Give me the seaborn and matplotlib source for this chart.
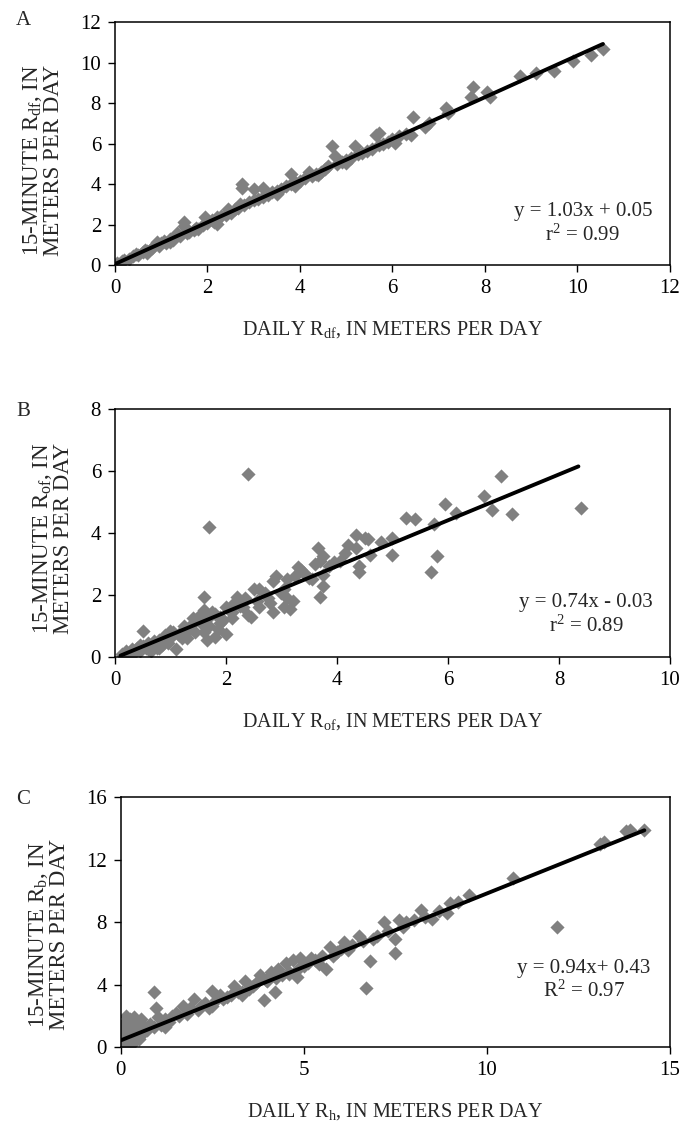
import numpy as np
import pandas as pd
import seaborn as sns
import matplotlib.pyplot as plt

# Panel A: recharge from daily vs 15-minute data (R_df)
a_daily = [0.02, 0.05, 0.1, 0.15, 0.2, 0.3, 0.4, 0.45, 0.5, 0.6, 0.65, 0.7, 0.7, 0.8, 0.85, 0.9,
           0.95, 1.0, 1.05, 1.1, 1.2, 1.2, 1.25, 1.3, 1.35, 1.4, 1.5, 1.5, 1.55, 1.6, 1.7, 1.75,
           1.8, 1.9, 1.95, 2.0, 2.1, 2.15, 2.2, 2.2, 2.3, 2.4, 2.45, 2.5, 2.6, 2.65, 2.7, 2.75,
           2.75, 2.8, 2.9, 3.0, 3.0, 3.1, 3.2, 3.2, 3.3, 3.4, 3.5, 3.5, 3.6, 3.7, 3.8, 3.8, 3.9,
           3.9, 4.0, 4.1, 4.2, 4.25, 4.35, 4.4, 4.45, 4.55, 4.6, 4.7, 4.75, 4.8, 4.9, 5.0, 5.0,
           5.1, 5.2, 5.25, 5.35, 5.45, 5.55, 5.65, 5.7, 5.7, 5.8, 5.9, 6.0, 6.05, 6.15, 6.3, 6.4,
           6.45, 6.7, 6.8, 7.15, 7.2, 7.7, 7.75, 8.05, 8.1, 8.75, 9.1, 9.5, 9.9, 10.3, 10.55]
a_15min = [0.0, 0.1, 0.05, 0.2, 0.25, 0.3, 0.45, 0.55, 0.5, 0.65, 0.75, 0.7, 0.6, 0.85, 0.95, 1.15,
           0.95, 1.1, 1.2, 1.1, 1.3, 1.15, 1.25, 1.4, 1.6, 1.45, 2.15, 1.95, 1.6, 1.65, 1.75, 1.85,
           1.8, 2.0, 2.35, 2.1, 2.2, 2.15, 2.35, 2.05, 2.4, 2.45, 2.75, 2.55, 2.75, 2.8, 3.0, 4.0,
           3.8, 2.95, 3.1, 3.75, 3.2, 3.25, 3.8, 3.35, 3.45, 3.6, 3.65, 3.5, 3.75, 3.9, 4.5, 4.0, 4.1,
           3.9, 4.15, 4.3, 4.6, 4.4, 4.5, 4.45, 4.6, 4.75, 4.9, 5.9, 5.4, 5.0, 5.1, 5.2, 5.05,
           5.3, 5.9, 5.5, 5.55, 5.65, 5.75, 6.4, 6.5, 5.95, 6.0, 6.1, 6.2, 6.05, 6.35, 6.45, 6.4,
           7.3, 6.8, 7.0, 7.75, 7.5, 8.3, 8.8, 8.55, 8.3, 9.35, 9.5, 9.6, 10.1, 10.35, 10.65]

# Panel B: R_of
b_daily = [0.12, 0.15, 0.2, 0.25, 0.3, 0.3, 0.35, 0.4, 0.45, 0.45, 0.5, 0.5, 0.55, 0.6, 0.6, 0.65,
           0.7, 0.75, 0.8, 0.8, 0.85, 0.9, 0.95, 1.0, 1.0, 1.05, 1.1, 1.15, 1.2, 1.2, 1.25, 1.3,
           1.35, 1.4, 1.4, 1.45, 1.5, 1.55, 1.6, 1.6, 1.6, 1.65, 1.7, 1.7, 1.7, 1.75, 1.8, 1.8,
           1.85, 1.9, 1.9, 1.95, 2.0, 2.0, 2.05, 2.1, 2.1, 2.15, 2.2, 2.25, 2.3, 2.35, 2.4, 2.4,
           2.45, 2.5, 2.55, 2.6, 2.6, 2.7, 2.75, 2.8, 2.85, 2.85, 2.9, 3.0, 3.05, 3.05, 3.1, 3.1,
           3.15, 3.2, 3.25, 3.3, 3.35, 3.4, 3.5, 3.55, 3.6, 3.65, 3.7, 3.7, 3.75, 3.75, 3.75, 3.85,
           3.95, 4.05, 4.15, 4.2, 4.35, 4.35, 4.4, 4.4, 4.5, 4.55, 4.6, 4.8, 5.0, 5.0, 5.25, 5.4,
           5.7, 5.75, 5.8, 5.95, 6.15, 6.65, 6.8, 6.95, 7.15, 8.4]
b_15min = [0.1, 0.05, 0.2, 0.1, 0.25, 0.05, 0.15, 0.3, 0.2, 0.4, 0.85, 0.35, 0.3, 0.45, 0.25, 0.2,
           0.5, 0.3, 0.55, 0.3, 0.4, 0.7, 0.45, 0.6, 0.85, 0.8, 0.25, 0.7, 0.85, 0.6, 1.0, 0.6,
           0.9, 1.1, 1.25, 0.8, 1.3, 1.1, 1.95, 1.5, 0.8, 0.55, 4.2, 1.3, 1.0, 1.45, 0.65, 1.4,
           0.9, 1.1, 1.3, 1.2, 0.75, 1.6, 1.5, 1.45, 1.25, 1.75, 1.95, 1.65, 1.6, 1.9, 5.9, 1.35,
           1.3, 2.2, 1.8, 2.2, 1.6, 2.05, 1.9, 1.75, 2.45, 1.45, 2.6, 2.05, 2.2, 1.6, 2.5, 1.9,
           1.55, 1.8, 2.6, 2.9, 2.8, 2.7, 2.55, 2.5, 3.0, 3.5, 3.1, 1.95, 3.25, 2.3, 2.65, 2.95,
           3.05, 3.1, 3.35, 3.6, 3.95, 3.5, 2.95, 2.75, 3.85, 3.8, 3.3, 3.7, 3.3, 3.85, 4.5, 4.45,
           2.75, 4.3, 3.25, 4.95, 4.65, 5.2, 4.75, 5.85, 4.6, 4.8]

# Panel C: R_b
c_daily = [0.02, 0.05, 0.05, 0.08, 0.1, 0.1, 0.1, 0.15, 0.2, 0.2, 0.25, 0.3, 0.3, 0.3, 0.35, 0.4,
           0.45, 0.5, 0.5, 0.55, 0.6, 0.65, 0.7, 0.8, 0.9, 0.9, 0.95, 1.0, 1.1, 1.2, 1.2, 1.3,
           1.4, 1.5, 1.6, 1.7, 1.8, 1.9, 2.0, 2.1, 2.2, 2.3, 2.4, 2.5, 2.5, 2.6, 2.7, 2.8, 2.9,
           3.0, 3.1, 3.2, 3.3, 3.3, 3.4, 3.5, 3.6, 3.7, 3.8, 3.9, 3.95, 4.0, 4.1, 4.2, 4.25, 4.3,
           4.4, 4.5, 4.6, 4.6, 4.7, 4.8, 4.85, 4.9, 5.0, 5.1, 5.2, 5.3, 5.4, 5.5, 5.6, 5.7, 5.8,
           5.9, 6.0, 6.1, 6.2, 6.3, 6.5, 6.6, 6.7, 6.8, 6.9, 7.0, 7.2, 7.3, 7.5, 7.5, 7.6, 7.7,
           7.8, 8.0, 8.2, 8.3, 8.5, 8.7, 8.9, 9.0, 9.2, 9.5, 10.7, 11.9, 13.1, 13.2, 13.8, 13.9,
           14.3]
c_15min = [0.2, 0.6, 1.2, 0.9, 0.3, 1.6, 0.1, 2.0, 1.5, 0.5, 1.8, 0.8, 1.2, 0.2, 1.9, 0.6,
           1.4, 1.0, 0.5, 1.8, 0.9, 1.3, 1.1, 1.5, 3.5, 1.3, 2.5, 1.9, 1.4, 1.8, 1.3, 1.6,
           2.0, 2.2, 2.0, 2.6, 2.1, 2.5, 3.1, 2.4, 2.6, 2.8, 2.5, 3.6, 2.6, 3.0, 3.3, 3.1, 3.2,
           3.3, 3.9, 3.5, 3.3, 3.5, 4.2, 3.7, 3.9, 4.1, 4.6, 3.0, 4.3, 4.2, 4.8, 3.5, 4.4, 5.0,
           4.6, 5.4, 4.8, 4.7, 5.6, 4.5, 5.0, 5.7, 5.2, 5.4, 5.7, 5.6, 5.3, 5.8, 5.0, 6.4, 5.8,
           6.1, 6.3, 6.7, 6.2, 6.5, 7.1, 6.8, 3.8, 5.5, 6.9, 7.1, 8.0, 7.4, 6.0, 6.9, 8.1, 7.7,
           8.0, 8.1, 8.8, 8.3, 8.2, 8.7, 8.6, 9.2, 9.3, 9.7, 10.8, 7.7, 13.0, 13.1, 13.8, 13.9,
           13.9]

# fitted lines as printed on the chart
slopes = [1.03, 0.74, 0.94]
intercepts = [0.05, -0.03, 0.43]
fit_ranges = [(0.0, 10.55), (0.1, 8.35), (0.0, 14.3)]
fit_text = ["y = 1.03x + 0.05\nr$^2$ = 0.99",
            "y = 0.74x - 0.03\nr$^2$ = 0.89",
            "y = 0.94x+ 0.43\nR$^2$ = 0.97"]

panel_letters = ["A", "B", "C"]
x_labels = ["DAILY R$_{\\mathrm{df}}$, IN METERS PER DAY",
            "DAILY R$_{\\mathrm{of}}$, IN METERS PER DAY",
            "DAILY R$_{\\mathrm{h}}$, IN METERS PER DAY"]
y_labels = ["15-MINUTE R$_{\\mathrm{df}}$, IN\nMETERS PER DAY",
            "15-MINUTE R$_{\\mathrm{of}}$, IN\nMETERS PER DAY",
            "15-MINUTE R$_{\\mathrm{b}}$, IN\nMETERS PER DAY"]
x_ticks = [[0, 2, 4, 6, 8, 10, 12], [0, 2, 4, 6, 8, 10], [0, 5, 10, 15]]
y_ticks = [[0, 2, 4, 6, 8, 10, 12], [0, 2, 4, 6, 8], [0, 4, 8, 12, 16]]


def main() -> None:
    sns.set_style("ticks")
    plt.rcParams['font.family'] = ['Liberation Serif', 'DejaVu Serif']
    plt.rcParams['mathtext.fontset'] = 'custom'
    plt.rcParams['mathtext.rm'] = 'Liberation Serif'
    plt.rcParams['mathtext.it'] = 'Liberation Serif:italic'

    fig = plt.figure(figsize=(6.91, 11.24), dpi=100)
    # axes boxes in figure fractions
    boxes = [[0.1664, 0.7642, 0.8032, 0.2162],
             [0.1664, 0.4155, 0.8032, 0.2206],
             [0.1750, 0.0685, 0.7946, 0.2224]]
    text_pos = [(0.843, 0.17), (0.849, 0.17), (0.843, 0.266)]
    ylabel_y = [0.43, 0.48, 0.45]
    letter_y = [0.982, 0.634, 0.289]

    data = [(a_daily, a_15min), (b_daily, b_15min), (c_daily, c_15min)]

    for i in range(3):
        ax = fig.add_axes(boxes[i])
        xs, ys = data[i]
        df = pd.DataFrame({'daily': xs, 'q15': ys})
        sns.scatterplot(data=df, x='daily', y='q15', marker='D', color='#808080',
                        s=52, linewidth=0, ax=ax, zorder=2)

        x0, x1 = fit_ranges[i]
        fit = pd.DataFrame({'daily': [x0, x1],
                            'q15': [slopes[i] * x0 + intercepts[i], slopes[i] * x1 + intercepts[i]]})
        sns.lineplot(data=fit, x='daily', y='q15', color='black', linewidth=2.8, ax=ax,
                     zorder=3, solid_capstyle='round')

        ax.set_xlim(x_ticks[i][0], x_ticks[i][-1])
        ax.set_ylim(y_ticks[i][0], y_ticks[i][-1])
        ax.set_xticks(x_ticks[i])
        ax.set_yticks(y_ticks[i])
        ax.tick_params(direction='out', length=5, width=1, labelsize=15, colors='black', pad=5)
        for sp in ax.spines.values():
            sp.set_color('black')
            sp.set_linewidth(1.1)

        ax.set_xlabel(x_labels[i], fontsize=14.5, labelpad=15)
        ax.set_ylabel(y_labels[i], fontsize=16.5, labelpad=12, linespacing=0.92)
        ax.yaxis.label.set_y(ylabel_y[i])

        ax.text(text_pos[i][0], text_pos[i][1], fit_text[i], transform=ax.transAxes,
                ha='center', va='center', fontsize=15, linespacing=1.2)

        fig.text(0.034, letter_y[i], panel_letters[i], fontsize=15, ha='center', va='center')

    fig.savefig("out.png", dpi=100)


if __name__ == "__main__":
    main()
